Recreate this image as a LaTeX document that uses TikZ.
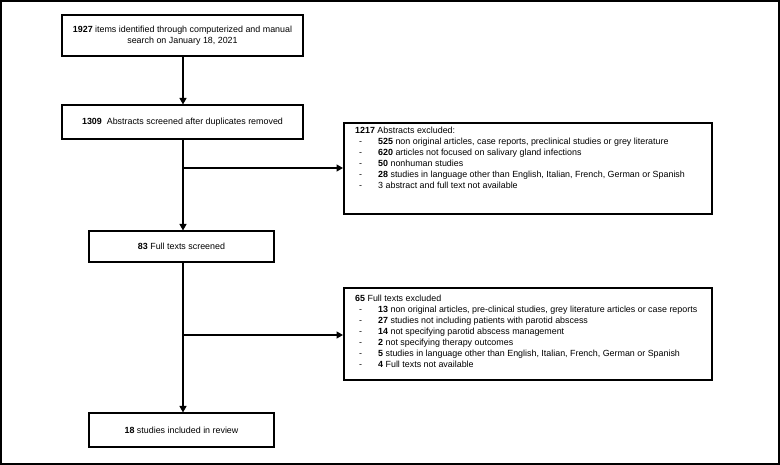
\documentclass[tikz,border=0pt]{standalone}
\usepackage{fontspec}
\setmainfont{Liberation Sans}
\usetikzlibrary{arrows.meta}
\begin{document}
\begin{tikzpicture}[x=1pt,y=-1pt,
  box/.style={draw, line width=1.1pt, inner sep=0pt},
  exbox/.style={draw, line width=1.6pt, inner sep=0pt},
  flow/.style={line width=1.4pt, -{Triangle[length=6.5pt,width=7pt]}},
  txt/.style={font=\fontsize{8.9}{11}\selectfont, inner sep=0pt, align=center}]
\useasboundingbox (0,0) rectangle (780,465);
\draw[line width=1.5pt] (1,1) rectangle (779,464);

\node[box, txt, minimum width=241pt, minimum height=41pt] (b1) at (182.5,35.5)
  {\textbf{1927} items identified through computerized and manual\\search on January 18, 2021};
\node[box, txt, minimum width=241pt, minimum height=34pt] (b2) at (182.5,122)
  {\textbf{1309}\ \ Abstracts screened after duplicates removed};
\node[box, txt, minimum width=185pt, minimum height=31pt] (b4) at (181.5,246.5)
  {\textbf{83} Full texts screened};
\node[box, txt, minimum width=185pt, minimum height=34pt] (b6) at (181.5,430)
  {\textbf{18} studies included in review};

\node[exbox, minimum width=368pt, minimum height=91pt, anchor=north west] (ex1) at (343,122) {};
\node[txt, anchor=north west] (ex1t) at (355,126) {%
\begin{tabular}{@{}p{23pt}@{}l@{}}
\multicolumn{2}{@{}l@{}}{\textbf{1217} Abstracts excluded:}\\
\hspace*{4pt}- & \textbf{525} non original articles, case reports, preclinical studies or grey literature\\
\hspace*{4pt}- & \textbf{620} articles not focused on salivary gland infections\\
\hspace*{4pt}- & \textbf{50} nonhuman studies\\
\hspace*{4pt}- & \textbf{28} studies in language other than English, Italian, French, German or Spanish\\
\hspace*{4pt}- & 3 abstract and full text not available
\end{tabular}};

\node[exbox, minimum width=368pt, minimum height=92pt, anchor=north west] (ex2) at (343,287) {};
\node[txt, anchor=west] (ex2t) at (355,332) {%
\begin{tabular}{@{}p{23pt}@{}l@{}}
\multicolumn{2}{@{}l@{}}{\textbf{65} Full texts excluded}\\
\hspace*{4pt}- & \textbf{13} non original articles, pre-clinical studies, grey literature articles or case reports\\
\hspace*{4pt}- & \textbf{27} studies not including patients with parotid abscess\\
\hspace*{4pt}- & \textbf{14} not specifying parotid abscess management\\
\hspace*{4pt}- & \textbf{2} not specifying therapy outcomes\\
\hspace*{4pt}- & \textbf{5} studies in language other than English, Italian, French, German or Spanish\\
\hspace*{4pt}- & \textbf{4} Full texts not available
\end{tabular}};

\coordinate (j1) at (183,168);
\coordinate (j2) at (183,335);
\draw[flow] (b1.south -| j1) -- (b2.north -| j1);
\draw[flow] (b2.south -| j1) -- (b4.north -| j1);
\draw[flow] (b4.south -| j2) -- (b6.north -| j2);
\draw[flow] (j1) -- (j1 -| ex1.west);
\draw[flow] (j2) -- (j2 -| ex2.west);
\end{tikzpicture}
\end{document}
